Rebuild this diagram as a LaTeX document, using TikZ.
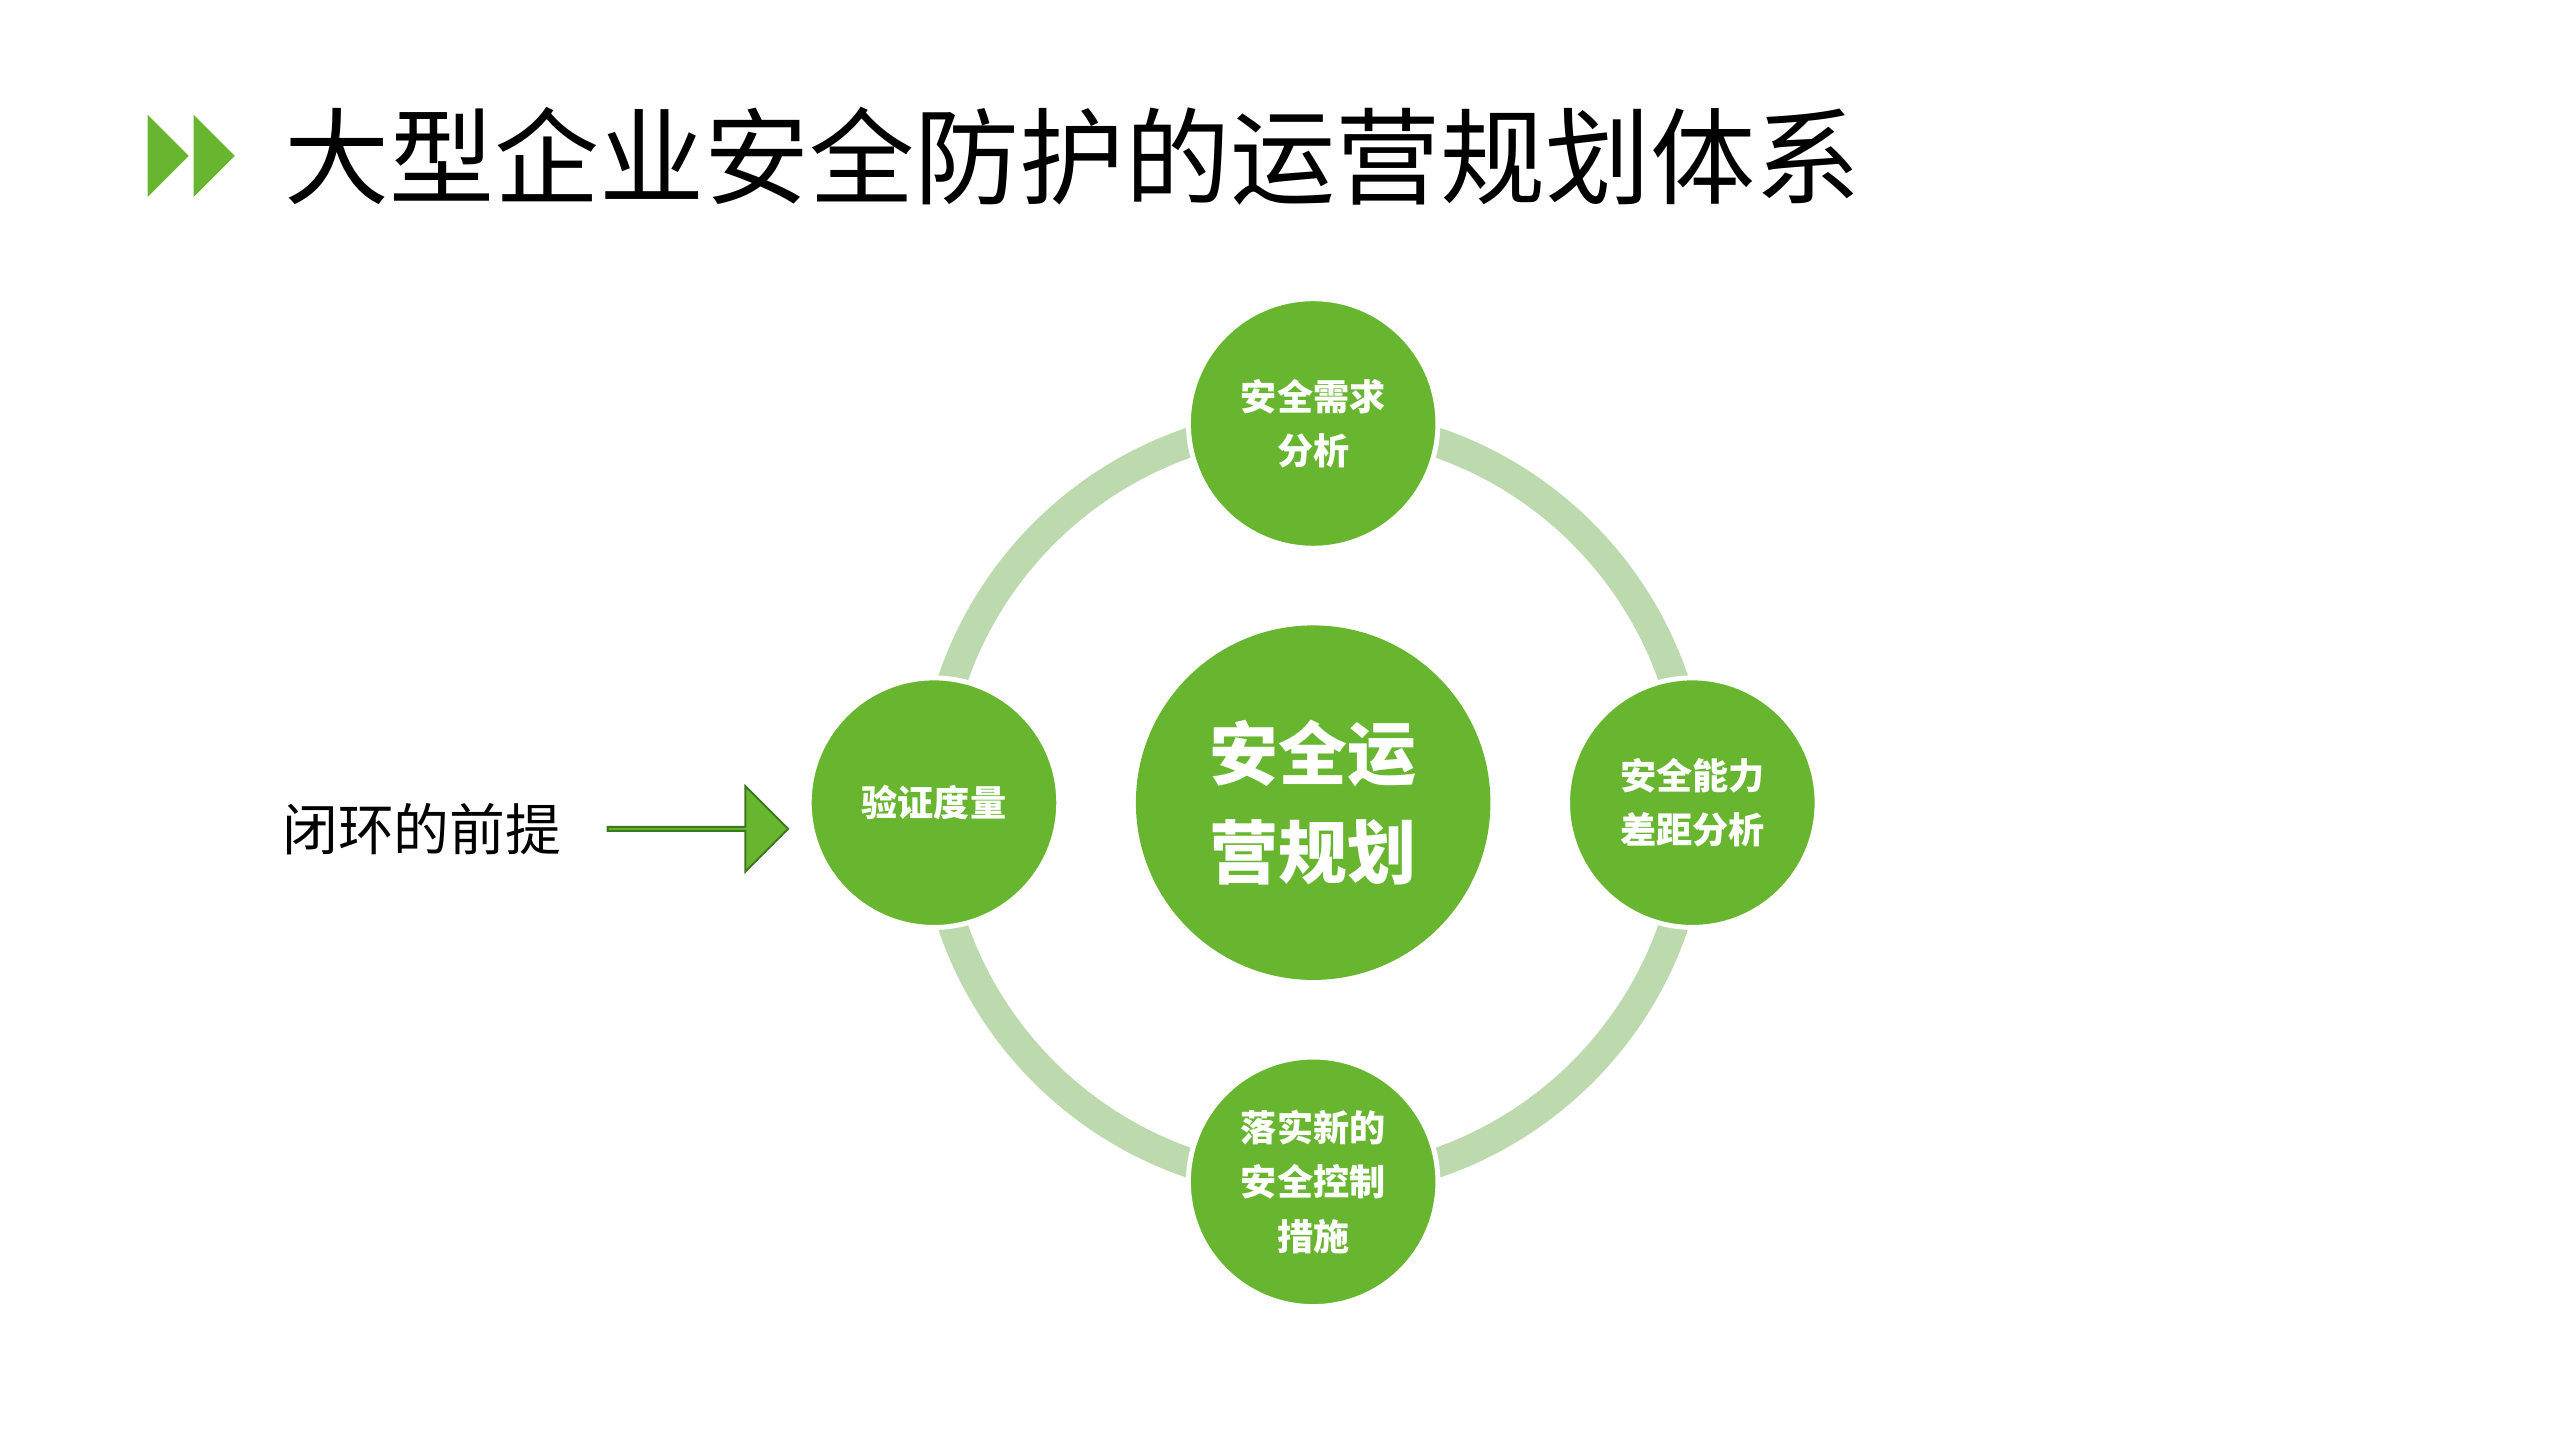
\documentclass[tikz,border=0pt]{standalone}
\usepackage{fontspec}
\newfontfamily\cjk{Noto Sans CJK SC}
\usetikzlibrary{shapes.arrows}
\definecolor{g}{RGB}{104,182,48}
\definecolor{lg}{RGB}{189,218,174}
\definecolor{dg}{RGB}{62,120,30}
\tikzset{sat/.style={circle,fill=g,draw=white,line width=1.5pt,minimum size=76pt,inner sep=0pt,align=center,text=white,font=\cjk\bfseries\fontsize{11}{16.5}\selectfont}}
\begin{document}
\begin{tikzpicture}[x=0.5pt,y=-0.5pt]
\useasboundingbox (0,0) rectangle (1559,877);
\fill[g] (90,70) -- (115,95) -- (90,120) -- cycle;
\fill[g] (118,70) -- (143,95) -- (118,120) -- cycle;
\node[anchor=west,font=\cjk\fontsize{32}{36}\selectfont,inner sep=0pt] (title) at (173,95) {大型企业安全防护的运营规划体系};
\draw[lg,line width=9pt] (800,489) circle (232);
\node[circle,fill=g,minimum size=108pt,inner sep=0pt,align=center,text=white,font=\cjk\bfseries\fontsize{21}{30}\selectfont] (c) at (800,489) {安全运\\营规划};
\node[sat] (t) at (800,258) {安全需求\\分析};
\node[sat] (r) at (1031,489) {安全能力\\差距分析};
\node[sat] (b) at (800,720) {落实新的\\安全控制\\措施};
\node[sat] (l) at (569,489) {验证度量};
\node[font=\cjk\fontsize{17}{20}\selectfont] (p) at (257,505) {闭环的前提};
\node[single arrow,fill=g,draw=dg,line width=0.6pt,minimum height=55pt,minimum width=26pt,single arrow head extend=6pt,inner sep=0pt,anchor=tip] (a) at (481,505) {};
\end{tikzpicture}
\end{document}
